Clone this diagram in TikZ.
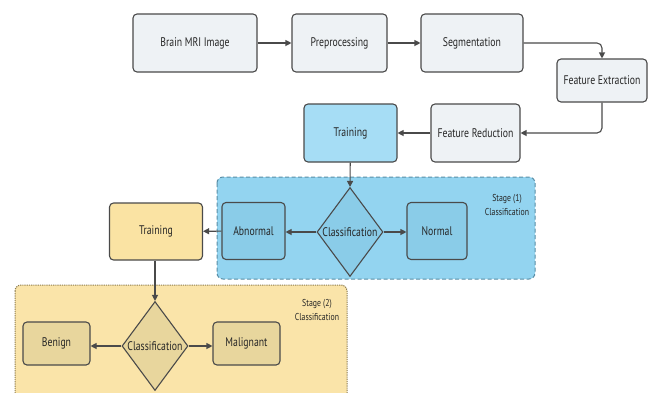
\documentclass[tikz,border=0pt]{standalone}
\usepackage{fontspec}
\setmainfont{PT Sans}
\newfontfamily\condfont[FakeStretch=0.78]{PT Sans}
\usetikzlibrary{arrows.meta,shapes.geometric}
\definecolor{grayfill}{HTML}{EEF2F5}
\definecolor{edge}{HTML}{4A4A4A}
\definecolor{bluelight}{HTML}{A6DDF5}
\definecolor{bluezone}{HTML}{93D4F0}
\definecolor{bluebox}{HTML}{8ACCE8}
\definecolor{blueedge}{HTML}{5A8EA6}
\definecolor{yellowlight}{HTML}{FAE3A3}
\definecolor{yellowzone}{HTML}{FAE4A9}
\definecolor{yellowbox}{HTML}{E8D69D}
\definecolor{yellowedge}{HTML}{8C7C50}
\tikzset{
  box/.style={draw=edge, line width=1.1pt, rounded corners=4pt, inner sep=0pt,
    font=\condfont\fontsize{12.5}{14}\selectfont, text=black!85},
  graybox/.style={box, fill=grayfill},
  decision/.style={diamond, draw=edge, line width=1.1pt, inner sep=0pt,
    minimum width=66pt, minimum height=89pt},
  conn/.style={draw=edge, line width=1.1pt, -{Triangle[length=6pt,width=6pt]}},
  stagelabel/.style={align=center, font=\condfont\fontsize{10}{14}\selectfont, text=black!85},
  diamondtext/.style={font=\condfont\fontsize{12.5}{14}\selectfont, text=black!85},
}
\begin{document}
\begin{tikzpicture}[x=1pt,y=-1pt]
\useasboundingbox[fill=white] (0,0) rectangle (651,392);
% zones
\draw[fill=bluezone, draw=blueedge, line width=1pt, dash pattern=on 4pt off 2.5pt, rounded corners=6pt]
  (217,177) rectangle (535,279);
\draw[fill=yellowzone, draw=yellowedge, line width=1pt, dash pattern=on 1.2pt off 1pt, rounded corners=6pt]
  (15,285) rectangle (347,402);
% top row
\node[graybox, minimum width=124pt, minimum height=58pt] (mri) at (195,43) {Brain MRI Image};
\node[graybox, minimum width=95pt, minimum height=58pt] (pre) at (339.5,43) {Preprocessing};
\node[graybox, minimum width=102pt, minimum height=58pt] (seg) at (472,43) {Segmentation};
\node[graybox, minimum width=90pt, minimum height=43pt] (fe) at (602,80.5) {Feature Extraction};
\node[graybox, minimum width=89pt, minimum height=58pt] (fr) at (475.5,133) {Feature Reduction};
\node[box, fill=bluelight, minimum width=93pt, minimum height=58pt] (tr1) at (350.5,133) {Training};
% stage 1
\node[decision, fill=bluebox, label={[diamondtext]center:Classification}] (cl1) at (350,232) {};
\node[box, fill=bluebox, minimum width=63pt, minimum height=57pt] (abn) at (253.5,231) {Abnormal};
\node[box, fill=bluebox, minimum width=60pt, minimum height=57pt] (nor) at (437,231) {Normal};
\node[stagelabel] (st1) at (507,205) {Stage (1)\\Classification};
% stage 2
\node[box, fill=yellowlight, minimum width=93pt, minimum height=57pt] (tr2) at (156,231.5) {Training};
\node[decision, fill=yellowbox, label={[diamondtext]center:Classification}] (cl2) at (155,346) {};
\node[box, fill=yellowbox, minimum width=67pt, minimum height=43pt] (ben) at (56.5,343.5) {Benign};
\node[box, fill=yellowbox, minimum width=67pt, minimum height=43pt] (mal) at (246.5,343.5) {Malignant};
\node[stagelabel] (st2) at (317,310) {Stage (2)\\Classification};
% connectors
\draw[conn] (mri) -- (pre);
\draw[conn] (pre) -- (seg);
\draw[conn, rounded corners=5pt] (seg.east) -| (fe.north);
\draw[conn, rounded corners=5pt] (fe.south) |- (fr.east);
\draw[conn] (fr) -- (tr1);
\draw[conn] (tr1) -- (cl1.north);
\draw[conn] (cl1.west) -- (abn.east |- cl1.west);
\draw[conn] (cl1.east) -- (nor.west |- cl1.east);
\draw[conn] (abn) -- (tr2);
\draw[conn] (tr2.south -| cl2.north) -- (cl2.north);
\draw[conn] (cl2.west) -- (ben.east |- cl2.west);
\draw[conn] (cl2.east) -- (mal.west |- cl2.east);
\end{tikzpicture}
\end{document}
